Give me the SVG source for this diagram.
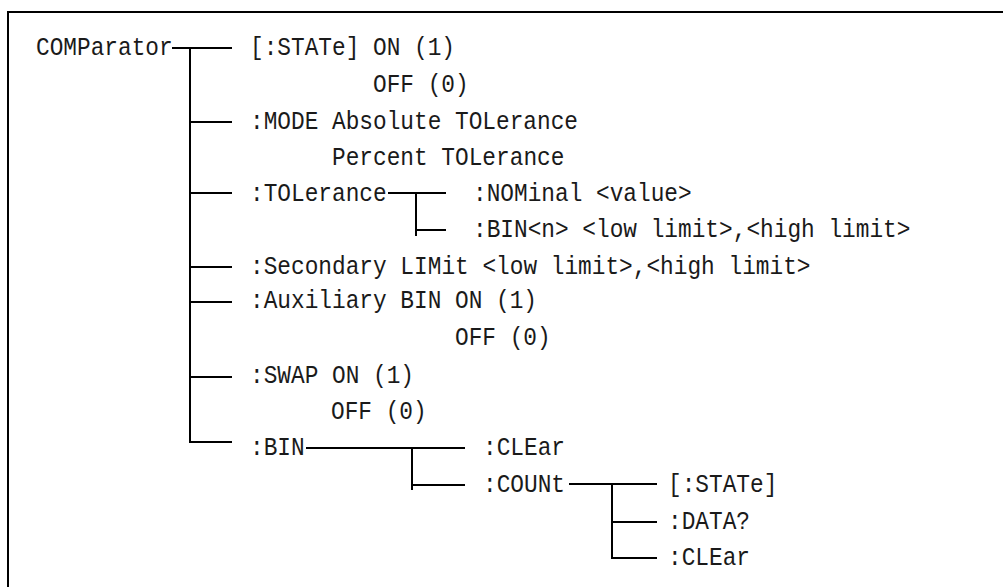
<svg xmlns="http://www.w3.org/2000/svg" width="1003" height="587" viewBox="0 0 1003 587">
<style>
  text { font-family: "Liberation Mono", "DejaVu Sans Mono", monospace; font-size: 26px; fill: #1a1a1a; }
  .c line, .c polyline { stroke: #000; stroke-width: 2; fill: none; }
  .frame { stroke: #000; stroke-width: 2; fill: #fff; }
</style>
<rect x="0" y="0" width="1003" height="587" fill="#fff"/>
<rect class="frame" x="8" y="12" width="1010" height="600"/>
<g class="c" id="connectors">
  <line x1="172" y1="48" x2="232" y2="48"/>
  <line x1="190" y1="47" x2="190" y2="443"/>
  <line x1="190" y1="122" x2="232" y2="122"/>
  <line x1="190" y1="193" x2="232" y2="193"/>
  <line x1="190" y1="267" x2="232" y2="267"/>
  <line x1="190" y1="302" x2="232" y2="302"/>
  <line x1="190" y1="377" x2="232" y2="377"/>
  <line x1="189" y1="442" x2="232" y2="442"/>
  <line x1="388" y1="193" x2="446" y2="193"/>
  <line x1="416" y1="193" x2="416" y2="236"/>
  <line x1="416" y1="230" x2="446" y2="230"/>
  <line x1="306" y1="448" x2="465" y2="448"/>
  <line x1="412" y1="448" x2="412" y2="490"/>
  <line x1="412" y1="485" x2="465" y2="485"/>
  <line x1="569" y1="484" x2="657" y2="484"/>
  <line x1="612" y1="484" x2="612" y2="559"/>
  <line x1="612" y1="522" x2="657" y2="522"/>
  <line x1="611" y1="558" x2="657" y2="558"/>
</g>
<g id="comparator"><text x="36" y="55" textLength="136.7" lengthAdjust="spacingAndGlyphs">COMParator</text></g>
<g id="state">
  <text x="250" y="55" textLength="205" lengthAdjust="spacingAndGlyphs">[:STATe] ON (1)</text>
  <text x="373" y="92" textLength="95.7" lengthAdjust="spacingAndGlyphs">OFF (0)</text>
</g>
<g id="mode">
  <text x="250" y="129" textLength="328" lengthAdjust="spacingAndGlyphs">:MODE Absolute TOLerance</text>
  <text x="332" y="165" textLength="232.4" lengthAdjust="spacingAndGlyphs">Percent TOLerance</text>
</g>
<g id="tolerance"><text x="250" y="201" textLength="136.7" lengthAdjust="spacingAndGlyphs">:TOLerance</text></g>
<g id="nominal"><text x="473" y="201" textLength="218.7" lengthAdjust="spacingAndGlyphs">:NOMinal &lt;value&gt;</text></g>
<g id="binn"><text x="473" y="237" textLength="437.4" lengthAdjust="spacingAndGlyphs">:BIN&lt;n&gt; &lt;low limit&gt;,&lt;high limit&gt;</text></g>
<g id="secondary"><text x="250" y="274" textLength="560.5" lengthAdjust="spacingAndGlyphs">:Secondary LIMit &lt;low limit&gt;,&lt;high limit&gt;</text></g>
<g id="auxiliary">
  <text x="250" y="308" textLength="287" lengthAdjust="spacingAndGlyphs">:Auxiliary BIN ON (1)</text>
  <text x="455" y="345" textLength="95.7" lengthAdjust="spacingAndGlyphs">OFF (0)</text>
</g>
<g id="swap">
  <text x="250" y="383" textLength="164" lengthAdjust="spacingAndGlyphs">:SWAP ON (1)</text>
  <text x="331" y="419" textLength="95.7" lengthAdjust="spacingAndGlyphs">OFF (0)</text>
</g>
<g id="bin"><text x="250" y="455" textLength="54.7" lengthAdjust="spacingAndGlyphs">:BIN</text></g>
<g id="bin-clear"><text x="483" y="455" textLength="82" lengthAdjust="spacingAndGlyphs">:CLEar</text></g>
<g id="count"><text x="483" y="492" textLength="82" lengthAdjust="spacingAndGlyphs">:COUNt</text></g>
<g id="count-state"><text x="668" y="492" textLength="109.4" lengthAdjust="spacingAndGlyphs">[:STATe]</text></g>
<g id="count-data"><text x="668" y="529" textLength="82" lengthAdjust="spacingAndGlyphs">:DATA?</text></g>
<g id="count-clear"><text x="668" y="565" textLength="82" lengthAdjust="spacingAndGlyphs">:CLEar</text></g>
</svg>
